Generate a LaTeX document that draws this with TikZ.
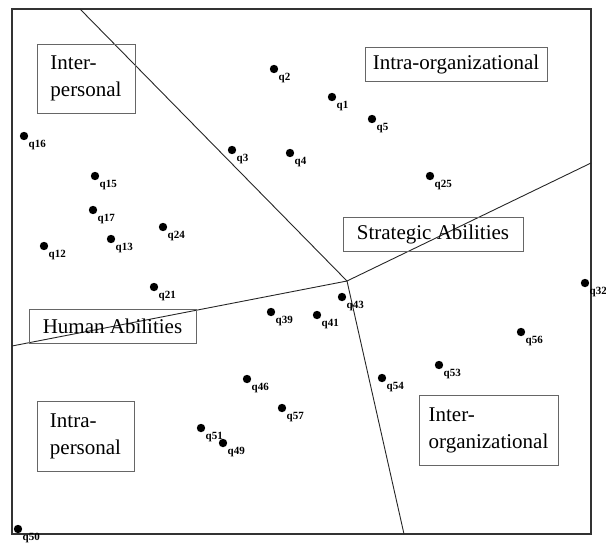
\documentclass[tikz,border=0pt]{standalone}
\usepackage{fontspec}
\setmainfont{Liberation Serif}
\begin{document}
\begin{tikzpicture}[x=1pt,y=-1pt,
  frame/.style={draw=black!80, line width=1.2pt},
  divider/.style={draw=black!85, line width=0.9pt},
  box/.style={draw=black!60, line width=0.9pt, font=\fontsize{21}{27}\selectfont, align=left, inner sep=0pt},
  dot/.style={circle, fill=black, inner sep=0pt, minimum size=8.4pt},
  qlabel/.style={font=\fontsize{11}{12}\selectfont\bfseries, inner sep=0pt, anchor=west}]
\useasboundingbox (0,0) rectangle (606,542);
\clip (0,0) rectangle (606,542);
% frame
\draw[frame] (12,9) rectangle (591,534);
% dividing lines
\coordinate (c) at (347,281);
\coordinate (ptop) at (80,9);
\coordinate (pright) at (591,163);
\coordinate (pleft) at (12,346);
\coordinate (pbottom) at (404,534);
\draw[divider] (ptop) -- (c);
\draw[divider] (pright) -- (c);
\draw[divider] (pleft) -- (c);
\draw[divider] (pbottom) -- (c);
% boxes
\node[box, minimum width=98pt, minimum height=69pt] (interp) at (86,78.5) {Inter-\\personal};
\node[box, minimum width=182pt, minimum height=34pt] (intraorg) at (456,64) {Intra-organizational};
\node[box, minimum width=180pt, minimum height=34pt] (strat) at (433,234) {Strategic Abilities};
\node[box, minimum width=167pt, minimum height=34pt] (human) at (112.5,326) {Human Abilities};
\node[box, minimum width=97pt, minimum height=70pt] (intrap) at (85.5,436) {Intra-\\personal};
\node[box, minimum width=139pt, minimum height=70pt] (interorg) at (488.5,430) {Inter-\\organizational};
% points
\foreach \n/\x/\y in {2/274/69, 1/332/97, 5/372/119, 16/24/136, 3/232/150, 4/290/153,
  25/430/176, 15/95/176, 17/93/210, 24/163/227, 13/111/239, 12/44/246, 21/154/287,
  32/585/283, 43/342/297, 39/271/312, 41/317/315, 56/521/332, 53/439/365, 54/382/378,
  46/247/379, 57/282/408, 51/201/428, 49/223/443, 50/18/529}{
  \node[dot] (q\n) at (\x,\y) {};
  \node[qlabel] (lq\n) at ({\x+4.5},{\y+9}) {q\n};
}
\end{tikzpicture}
\end{document}
